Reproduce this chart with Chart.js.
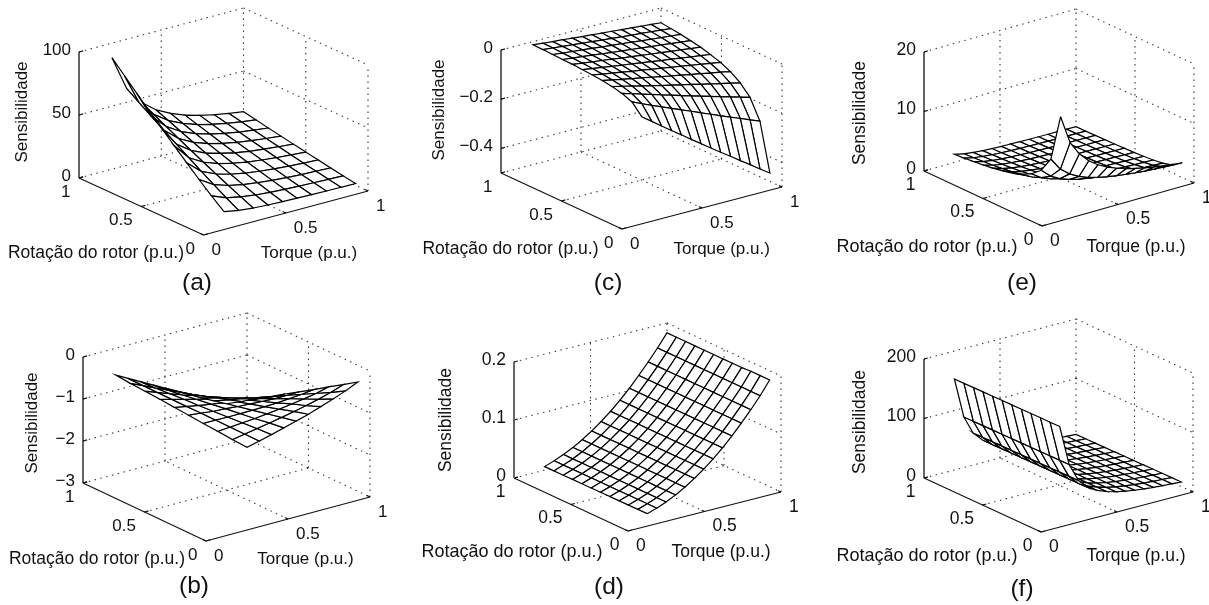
<!DOCTYPE html>
<html><head><meta charset="utf-8">
<script src="https://cdn.jsdelivr.net/npm/chart.js@4"></script>
<style>html,body{margin:0;padding:0;background:#fff}#page{position:relative;width:1209px;height:605px;overflow:hidden}
#page div{position:absolute}canvas{display:block}</style>
</head><body><div id="page"></div>
<script>
// Data
const torqueCoarse=[.2,.289,.378,.467,.556,.644,.733,.822,.911,1];
const rotorCoarse=[.1,.2,.3,.4,.5,.6,.7,.8,.9,1];
const torqueFine=[.2,.262,.323,.385,.446,.508,.569,.631,.692,.754,.815,.877,.938,1];
const rotorFine=[.1,.182,.264,.345,.427,.509,.591,.673,.755,.836,.918,1];
const floorTicks=[0,.5,1];
const floorLabels=['0','0.5','1'];

const zA=[
[7,4.9,3.7,3,2.5,2.2,1.9,1.7,1.5,1.4],
[15,10.4,8,6.4,5.4,4.7,4.1,3.7,3.3,3],
[23.5,16.3,12.5,10.1,8.5,7.3,6.4,5.7,5.2,4.7],
[32.3,22.3,17.1,13.8,11.6,10,8.8,7.8,7.1,6.5],
[41.3,28.6,21.9,17.7,14.9,12.8,11.3,10,9.1,8.3],
[50.4,34.9,26.7,21.6,18.2,15.6,13.7,12.3,11.1,10.1],
[59.7,41.3,31.7,25.6,21.5,18.5,16.3,14.5,13.1,11.9],
[69.2,47.9,36.7,29.6,24.9,21.4,18.8,16.8,15.2,13.8],
[78.9,54.5,41.8,33.8,28.4,24.4,21.5,19.2,17.3,15.8],
[88.5,61.2,46.9,37.9,31.9,27.4,24.1,21.5,19.4,17.7]];
const zB=[
[-.08,-.12,-.15,-.19,-.22,-.26,-.3,-.33,-.37,-.4],
[-.15,-.22,-.28,-.35,-.42,-.48,-.55,-.62,-.69,-.75],
[-.22,-.31,-.41,-.5,-.6,-.7,-.79,-.89,-.99,-1.08],
[-.28,-.41,-.53,-.65,-.78,-.9,-1.03,-1.15,-1.28,-1.4],
[-.34,-.5,-.65,-.8,-.95,-1.1,-1.26,-1.41,-1.56,-1.72],
[-.4,-.58,-.76,-.94,-1.12,-1.3,-1.48,-1.66,-1.84,-2.02],
[-.46,-.67,-.88,-1.08,-1.29,-1.49,-1.7,-1.91,-2.11,-2.32],
[-.52,-.76,-.99,-1.22,-1.46,-1.69,-1.92,-2.15,-2.38,-2.62],
[-.58,-.84,-1.1,-1.36,-1.62,-1.87,-2.13,-2.39,-2.65,-2.91],
[-.64,-.93,-1.21,-1.49,-1.78,-2.06,-2.35,-2.63,-2.92,-3.2]];
const zC=[
[-.101,-.13,-.159,-.188,-.216,-.245,-.273,-.301,-.329,-.356,-.384,-.411,-.439,-.466],
[-.059,-.077,-.094,-.111,-.127,-.144,-.16,-.177,-.193,-.21,-.226,-.242,-.258,-.274],
[-.043,-.055,-.067,-.079,-.091,-.103,-.115,-.127,-.138,-.15,-.161,-.173,-.184,-.196],
[-.034,-.043,-.053,-.063,-.072,-.082,-.091,-.1,-.109,-.119,-.128,-.137,-.146,-.155],
[-.028,-.036,-.044,-.052,-.059,-.067,-.075,-.083,-.09,-.098,-.105,-.113,-.12,-.128],
[-.024,-.031,-.037,-.044,-.051,-.057,-.064,-.07,-.077,-.083,-.09,-.096,-.103,-.109],
[-.021,-.027,-.033,-.039,-.045,-.05,-.056,-.062,-.068,-.073,-.079,-.085,-.09,-.096],
[-.018,-.024,-.029,-.034,-.039,-.045,-.05,-.055,-.06,-.065,-.07,-.075,-.08,-.085],
[-.017,-.022,-.026,-.031,-.036,-.041,-.045,-.05,-.054,-.059,-.063,-.068,-.072,-.077],
[-.015,-.02,-.024,-.028,-.032,-.037,-.041,-.045,-.049,-.054,-.058,-.062,-.066,-.07],
[-.014,-.018,-.022,-.026,-.03,-.034,-.038,-.042,-.046,-.05,-.053,-.057,-.061,-.065],
[-.013,-.017,-.021,-.024,-.028,-.032,-.035,-.039,-.042,-.046,-.049,-.053,-.056,-.06]];
const zD=[
[.0073,.0126,.0191,.0271,.0364,.0472,.0593,.0728,.0877,.104,.122,.141,.161,.184],
[.0072,.0126,.0191,.0271,.0364,.0472,.0593,.0728,.0877,.104,.122,.141,.161,.184],
[.0071,.0125,.019,.027,.0364,.0472,.0593,.0728,.0877,.104,.122,.141,.161,.184],
[.007,.0125,.019,.027,.0363,.0471,.0592,.0727,.0877,.104,.122,.141,.161,.183],
[.0069,.0124,.019,.027,.0363,.0471,.0592,.0727,.0876,.104,.122,.141,.161,.183],
[.0068,.0124,.0189,.0269,.0363,.0471,.0592,.0727,.0876,.104,.122,.141,.161,.183],
[.0067,.0123,.0189,.0269,.0362,.047,.0591,.0726,.0876,.104,.122,.141,.161,.183],
[.0066,.0123,.0189,.0269,.0362,.047,.0591,.0726,.0875,.104,.122,.141,.161,.183],
[.0065,.0122,.0188,.0268,.0362,.047,.0591,.0726,.0875,.104,.122,.141,.161,.183],
[.0064,.0122,.0188,.0268,.0361,.0469,.059,.0725,.0875,.104,.122,.141,.161,.183],
[.0063,.0121,.0187,.0268,.0361,.0469,.059,.0725,.0875,.104,.122,.141,.161,.183],
[.0062,.012,.0187,.0267,.0361,.0469,.059,.0725,.0874,.104,.122,.141,.161,.183]];
const zE=[
[16,11.2,8.87,7.26,6.15,5.31,4.67,4.15,3.75,3.41,3.11,2.87,2.67,2.47],
[8.13,5.99,4.74,3.88,3.29,2.84,2.49,2.22,2.01,1.82,1.66,1.53,1.43,1.32],
[5.49,4.05,3.2,2.62,2.22,1.92,1.68,1.5,1.35,1.23,1.12,1.03,.96,.89],
[4.15,3.06,2.42,1.98,1.68,1.45,1.27,1.13,1.02,.93,.85,.78,.73,.67],
[3.31,2.44,1.93,1.58,1.34,1.15,1.01,.9,.82,.74,.68,.62,.58,.54],
[2.75,2.03,1.6,1.31,1.11,.96,.84,.75,.68,.62,.56,.52,.48,.45],
[2.36,1.74,1.37,1.13,.95,.82,.72,.64,.58,.53,.48,.44,.41,.38],
[2.06,1.52,1.2,.98,.83,.72,.63,.56,.51,.46,.42,.39,.36,.33],
[1.82,1.34,1.06,.87,.73,.63,.56,.5,.45,.41,.37,.34,.32,.3],
[1.64,1.21,.95,.78,.66,.57,.5,.45,.4,.37,.34,.31,.29,.27],
[1.48,1.09,.86,.71,.6,.52,.45,.4,.36,.33,.3,.28,.26,.24],
[1.36,1,.79,.65,.55,.47,.42,.37,.33,.3,.28,.26,.24,.22]];
const zF=[
[154.8,86.8,55.8,39.8,30.8,24.8,20.3,17.1,14.6,12.6,11.1,9.8,8.8,7.8],
[154.6,86.6,55.6,39.6,30.6,24.6,20.1,16.9,14.4,12.4,10.9,9.6,8.6,7.6],
[154.5,86.5,55.5,39.5,30.5,24.5,20,16.8,14.3,12.3,10.8,9.5,8.5,7.5],
[154.3,86.3,55.3,39.3,30.3,24.3,19.8,16.6,14.1,12.1,10.6,9.3,8.3,7.3],
[154.1,86.1,55.1,39.1,30.1,24.1,19.6,16.4,13.9,11.9,10.4,9.1,8.1,7.1],
[154,86,55,39,30,24,19.5,16.3,13.8,11.8,10.3,9,8,7],
[153.8,85.8,54.8,38.8,29.8,23.8,19.3,16.1,13.6,11.6,10.1,8.8,7.8,6.8],
[153.6,85.6,54.6,38.6,29.6,23.6,19.1,15.9,13.4,11.4,9.9,8.6,7.6,6.6],
[153.5,85.5,54.5,38.5,29.5,23.5,19,15.8,13.3,11.3,9.8,8.5,7.5,6.5],
[153.3,85.3,54.3,38.3,29.3,23.3,18.8,15.6,13.1,11.1,9.6,8.3,7.3,6.3],
[153.1,85.1,54.1,38.1,29.1,23.1,18.6,15.4,12.9,10.9,9.4,8.1,7.1,6.1],
[153,85,54,38,29,23,18.5,15.3,12.8,10.8,9.3,8,7,6]];

const zTicksA=[0,50,100], zTickLabelsA=['0','50','100'];
const zTicksB=[-3,-2,-1,0], zTickLabelsB=['\u22123','\u22122','\u22121','0'];
const zTicksC=[-.4,-.2,0], zTickLabelsC=['\u22120.4','\u22120.2','0'];
const zTicksD=[0,.1,.2], zTickLabelsD=['0','0.1','0.2'];
const zTicksE=[0,10,20], zTickLabelsE=['0','10','20'];
const zTicksF=[0,100,200], zTickLabelsF=['0','100','200'];

// Layout of each small chart: frame, projection and text anchors in page pixels
const panels=[
 {z:zA,T:torqueCoarse,R:rotorCoarse,ticks:zTicksA,labels:zTickLabelsA,zr:[0,100],box:[0,0,405,300],o:[203.5,235],t:[164.5,-44],r:[-124.5,-57],h:126,
  cap:'(a)',capAt:[197,283],rotAt:[96,253],torAt:[309,253],senAt:[22,112],font:17,axisW:1.3,axisC:'#111'},
 {z:zB,T:torqueCoarse,R:rotorCoarse,ticks:zTicksB,labels:zTickLabelsB,zr:[-3,0],box:[0,300,405,305],o:[206,541],t:[164,-44],r:[-123,-58],h:126,
  cap:'(b)',capAt:[194,586],rotAt:[97,559],torAt:[305.5,559],senAt:[32,423],font:17,axisW:1.3,axisC:'#111'},
 {z:zC,T:torqueFine,R:rotorFine,ticks:zTicksC,labels:zTickLabelsC,zr:[-.5,0],box:[405,0,405,300],o:[622,229],t:[160,-42],r:[-121,-56],h:123,
  cap:'(c)',capAt:[608,283],rotAt:[510.5,249],torAt:[721.7,249],senAt:[439,110],font:17,axisW:1.3,axisC:'#111'},
 {z:zD,T:torqueFine,R:rotorFine,ticks:zTicksD,labels:zTickLabelsD,zr:[0,.2],box:[405,300,405,305],o:[628,531],t:[153,-39],r:[-114,-53],h:116,
  cap:'(d)',capAt:[609,587],rotAt:[512,552],torAt:[721,552],senAt:[446,420],font:17.5,axisW:2,axisC:'#666'},
 {z:zE,T:torqueFine,R:rotorFine,ticks:zTicksE,labels:zTickLabelsE,zr:[0,20],box:[810,0,399,300],o:[1042,226],t:[152,-43],r:[-118,-55],h:119,
  cap:'(e)',capAt:[1022,283],rotAt:[927,247],torAt:[1136,247],senAt:[860,113],font:17.5,axisW:1.3,axisC:'#111'},
 {z:zF,T:torqueFine,R:rotorFine,ticks:zTicksF,labels:zTickLabelsF,zr:[0,200],box:[810,300,399,305],o:[1041,532],t:[152,-40],r:[-117,-54],h:119,
  cap:'(f)',capAt:[1022,589],rotAt:[927,556],torAt:[1136,556],senAt:[860,422],font:17.5,axisW:1.3,axisC:'#111'}
];

const INK='#000', TEXT='#111', FONT='"Liberation Sans", Arial, sans-serif';

function lineSet(data,extra){
  return Object.assign({data,showLine:true,fill:false,pointRadius:0,borderColor:INK,borderWidth:1.2,tension:0,
    borderCapStyle:'butt',borderJoinStyle:'miter'},extra);
}

function buildDatasets(p){
  const zMin=p.zr[0], zMax=p.zr[1];
  const at=(T,R,z)=>({
    x:p.o[0]+T*p.t[0]+R*p.r[0],
    y:p.o[1]+T*p.t[1]+R*p.r[1]-(z-zMin)/(zMax-zMin)*p.h
  });
  const sets=[];
  // Surface cells, nearest first: Chart.js paints the first dataset last
  for(let i=0;i<p.R.length-1;i++){
    for(let j=0;j<p.T.length-1;j++){
      sets.push(lineSet([
        at(p.T[j],p.R[i],p.z[i][j]),
        at(p.T[j+1],p.R[i],p.z[i][j+1]),
        at(p.T[j+1],p.R[i+1],p.z[i+1][j+1]),
        at(p.T[j],p.R[i+1],p.z[i+1][j]),
        at(p.T[j],p.R[i],p.z[i][j])
      ],{fill:'shape',backgroundColor:'#fff'}));
    }
  }
  // Solid axes and their tick marks
  const solid=(a,b,w,c)=>sets.push(lineSet([a,b],{borderWidth:w||1.2,borderColor:c||'#111'}));
  solid(at(0,1,zMin),at(0,1,zMax),p.axisW,p.axisC);
  solid(at(0,0,zMin),at(0,1,zMin));
  solid(at(0,0,zMin),at(1,0,zMin));
  p.ticks.forEach(v=>solid(at(0,1,v),at(.025,1,v)));
  floorTicks.forEach(v=>{solid(at(v,0,zMin),at(v,.025,zMin));solid(at(0,v,zMin),at(.025,v,zMin));});
  // Dotted box and grid
  const dots=(a,b)=>sets.push(lineSet([a,b],{borderDash:[1.4,4.6],borderColor:'#333',borderWidth:1.1}));
  const levels=p.ticks.includes(zMin)?p.ticks:[zMin].concat(p.ticks);
  levels.forEach(v=>{dots(at(0,1,v),at(1,1,v));dots(at(1,1,v),at(1,0,v));});
  dots(at(.5,1,zMin),at(.5,1,zMax));
  dots(at(1,1,zMin),at(1,1,zMax));
  dots(at(1,.5,zMin),at(1,.5,zMax));
  dots(at(1,0,zMin),at(1,0,zMax));
  dots(at(.5,0,zMin),at(.5,1,zMin));
  dots(at(0,.5,zMin),at(1,.5,zMin));
  return {sets,at};
}

const textPlugin={
  id:'panelText',
  afterDraw(chart,args,opts){
    const p=opts.panel, at=opts.at, ctx=chart.ctx;
    const sx=v=>chart.scales.x.getPixelForValue(v), sy=v=>chart.scales.y.getPixelForValue(v);
    const zMin=p.zr[0];
    const put=(txt,x,y,align,size)=>{
      ctx.font=(size||p.font)+'px '+FONT;ctx.textAlign=align;ctx.textBaseline='middle';ctx.fillStyle=TEXT;
      ctx.fillText(txt,sx(x),sy(y));
    };
    ctx.save();
    p.ticks.forEach((v,i)=>{const a=at(0,1,v);put(p.labels[i],a.x-8,a.y-2,'right');});
    floorTicks.forEach((v,i)=>{
      const a=at(0,v,zMin);put(floorLabels[i],a.x-8.5,a.y+14,'right');
      const b=at(v,0,zMin);put(floorLabels[i],b.x+8,b.y+15,'left');
    });
    put('Rotação do rotor (p.u.)',p.rotAt[0],p.rotAt[1],'center',p.font*1.03);
    put('Torque (p.u.)',p.torAt[0],p.torAt[1],'center');
    put(p.cap,p.capAt[0],p.capAt[1],'center',24.5);
    ctx.translate(sx(p.senAt[0]),sy(p.senAt[1]));ctx.rotate(-Math.PI/2);
    ctx.font=p.font+'px '+FONT;ctx.textAlign='center';ctx.textBaseline='middle';ctx.fillStyle=TEXT;
    ctx.fillText('Sensibilidade',0,0);
    ctx.restore();
  }
};

panels.forEach(p=>{
  const [l,t,w,h]=p.box;
  const holder=document.createElement('div');
  holder.style.cssText=`left:${l}px;top:${t}px;width:${w}px;height:${h}px`;
  const cv=document.createElement('canvas');cv.width=w;cv.height=h;cv.style.cssText=`width:${w}px;height:${h}px`;
  holder.appendChild(cv);document.getElementById('page').appendChild(holder);
  const {sets,at}=buildDatasets(p);
  new Chart(cv,{
    type:'scatter',
    data:{datasets:sets},
    options:{
      responsive:false,animation:false,devicePixelRatio:1,
      layout:{padding:0},
      events:[],
      scales:{
        x:{type:'linear',display:false,min:l,max:l+w},
        y:{type:'linear',display:false,reverse:true,min:t,max:t+h}
      },
      plugins:{legend:{display:false},tooltip:{enabled:false},title:{display:false},panelText:{panel:p,at}}
    },
    plugins:[textPlugin]
  });
});
</script></body></html>
